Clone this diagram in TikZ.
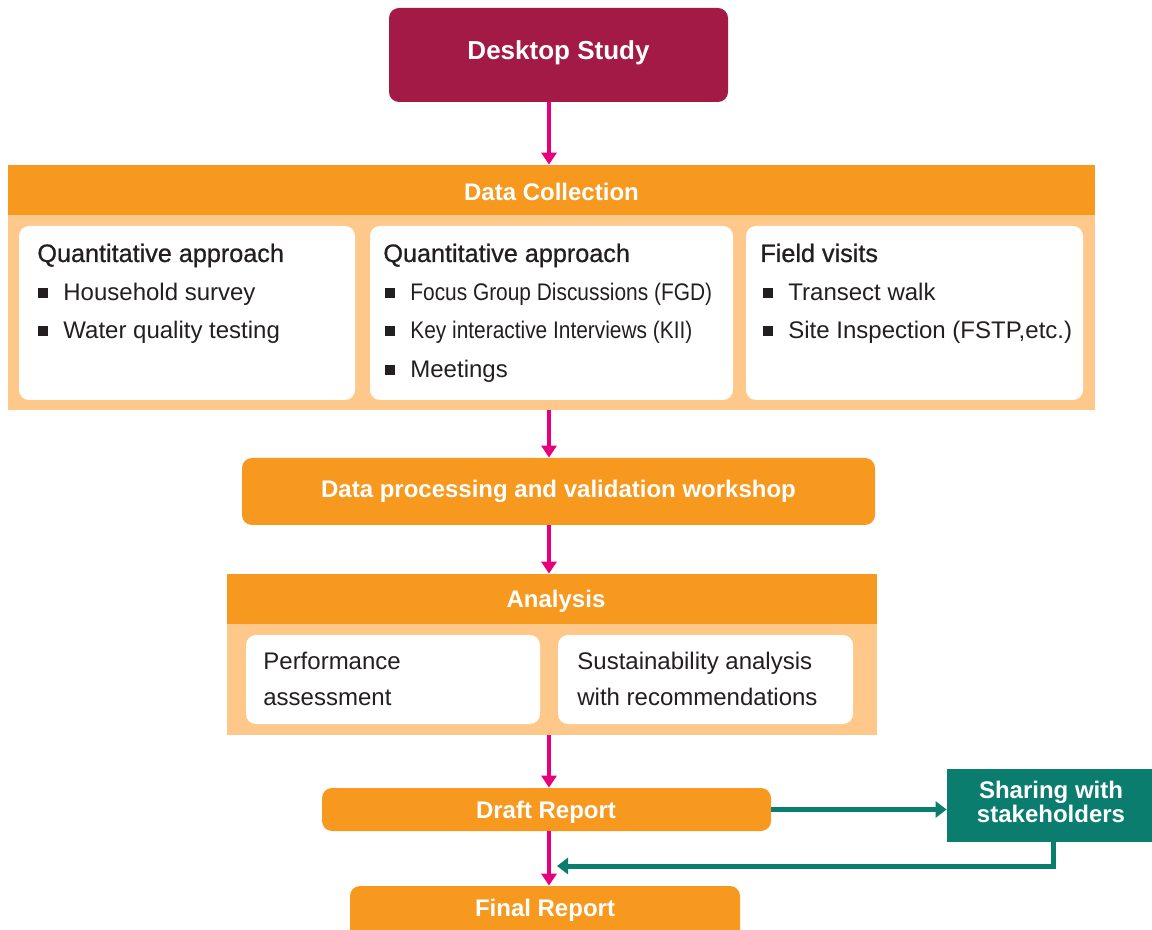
\documentclass[tikz,border=0pt]{standalone}
\usepackage{fontspec}
\setmainfont{Liberation Sans}
\newfontfamily\headfont[FakeBold=0.8]{Liberation Sans}
\newfontfamily\narrowfont[FakeStretch=0.87]{Liberation Sans}
\usetikzlibrary{arrows.meta}
\definecolor{deskred}{RGB}{163,26,71}
\definecolor{flowpink}{RGB}{230,0,126}
\definecolor{bandorange}{RGB}{247,153,31}
\definecolor{panelorange}{RGB}{253,200,138}
\definecolor{shareteal}{RGB}{10,125,110}
\definecolor{bodytext}{RGB}{35,31,32}

\begin{document}
\begin{tikzpicture}[x=0.5pt,y=-0.5pt,
  stage/.style={fill=bandorange,rounded corners=5pt,inner sep=0pt,text=white,font=\fontsize{12}{14}\selectfont\bfseries},
  band/.style={fill=bandorange,inner sep=0pt,text=white,font=\fontsize{12}{14}\selectfont\bfseries},
  panel/.style={fill=panelorange,inner sep=0pt},
  card/.style={fill=white,rounded corners=5pt,inner sep=0pt},
  head/.style={anchor=base west,inner sep=0pt,text=bodytext,font=\fontsize{12.6}{14}\headfont},
  item/.style={anchor=base west,inner sep=0pt,text=bodytext,font=\fontsize{12}{14}\selectfont},
  sq/.style={fill=bodytext,minimum size=5.3pt,inner sep=0pt},
  flow/.style={flowpink,line width=2pt,-{Triangle[width=7.5pt,length=6pt]}},
  sharearrow/.style={shareteal,line width=2.5pt,-{Triangle[width=8pt,length=5.5pt]}}]
  \useasboundingbox (0,0) rectangle (1152,930);
  \clip (0,0) rectangle (1152,930);
  \coordinate (axis) at (549,0);

  % desktop study
  \node[fill=deskred,rounded corners=5pt,inner sep=0pt,minimum width=169.5pt,minimum height=47pt,
        text=white,font=\fontsize{13}{16}\selectfont\bfseries] (desk) at (558.5,55) {\raisebox{5pt}{Desktop Study}};

  % data collection
  \node[band,minimum width=543.5pt,minimum height=25pt] (dc) at (551.5,190) {};
  \node[text=white,font=\fontsize{12}{14}\selectfont\bfseries] (dc-t) at (551.5,192) {Data Collection};
  \node[panel,minimum width=543.5pt,minimum height=97.5pt] (dcpanel) at (551.5,312.5) {};
  \node[card,minimum width=168pt,minimum height=87pt] (quant) at (187,313) {};
  \node[card,minimum width=181.5pt,minimum height=87pt] (qual) at (551.5,313) {};
  \node[card,minimum width=168.5pt,minimum height=87pt] (field) at (914.5,313) {};
  \node[head] (quant-h) at (37,262) {Quantitative approach};
  \node[head] (qual-h) at (383,262) {Quantitative approach};
  \node[head] (field-h) at (760,262) {Field visits};
  \foreach \x/\y/\txt [count=\i] in {63/301/Household survey,63/339/Water quality testing,
      410/301/{\narrowfont Focus Group Discussions (FGD)},410/339/{\narrowfont Key interactive Interviews (KII)},410/378/Meetings,
      788/301/Transect walk,788/339/{Site Inspection (FSTP,etc.)}}
  {
    \node[sq] (dot\i) at (\x-20,\y-8) {};
    \node[item] (item\i) at (\x,\y) {\txt};
  }

  % processing
  \node[stage,minimum width=316.5pt,minimum height=33.5pt] (proc) at (558.5,491.5) {Data processing and validation workshop};

  % analysis
  \node[band,minimum width=325pt,minimum height=25pt] (an) at (552,599) {};
  \node[text=white,font=\fontsize{12}{14}\selectfont\bfseries] (an-t) at (556,601) {Analysis};
  \node[panel,minimum width=325pt,minimum height=55.5pt] (anpanel) at (552,679.5) {};
  \node[card,minimum width=147pt,minimum height=44.5pt] (perf) at (393,679.5) {};
  \node[card,minimum width=147.5pt,minimum height=44.5pt] (sust) at (705.5,679.5) {};
  \node[item] (perf1) at (263,669) {Performance};
  \node[item] (perf2) at (263,705) {assessment};
  \node[item] (sust1) at (577,669) {Sustainability analysis};
  \node[item] (sust2) at (577,705) {with recommendations};

  % reports
  \node[stage,minimum width=224.5pt,minimum height=21.5pt] (draft) at (546.5,809.5) {};
  \node[text=white,font=\fontsize{12}{14}\selectfont\bfseries] (draft-t) at (546,812) {Draft Report};
  \node[stage,minimum width=195pt,minimum height=32pt] (final) at (545,918) {\raisebox{10pt}{Final Report}};
  \node[fill=shareteal,inner sep=0pt,minimum width=106.5pt,minimum height=36.5pt] (share) at (1053.5,805.5) {};
  \node[text=white,align=center,font=\fontsize{12}{12}\selectfont\bfseries] (share-t) at (1051,802) {Sharing with\\stakeholders};

  \foreach \a/\b in {desk/dc,dcpanel/proc,proc/an,anpanel/draft,draft/final}
    \draw[flow] (\a.south -| axis) -- (\b.north -| axis);

  \coordinate (back) at (557,866);
  \draw[sharearrow] (draft.east) -- (draft.east -| share.west);
  \draw[sharearrow] (share.south) |- (back);
\end{tikzpicture}
\end{document}
